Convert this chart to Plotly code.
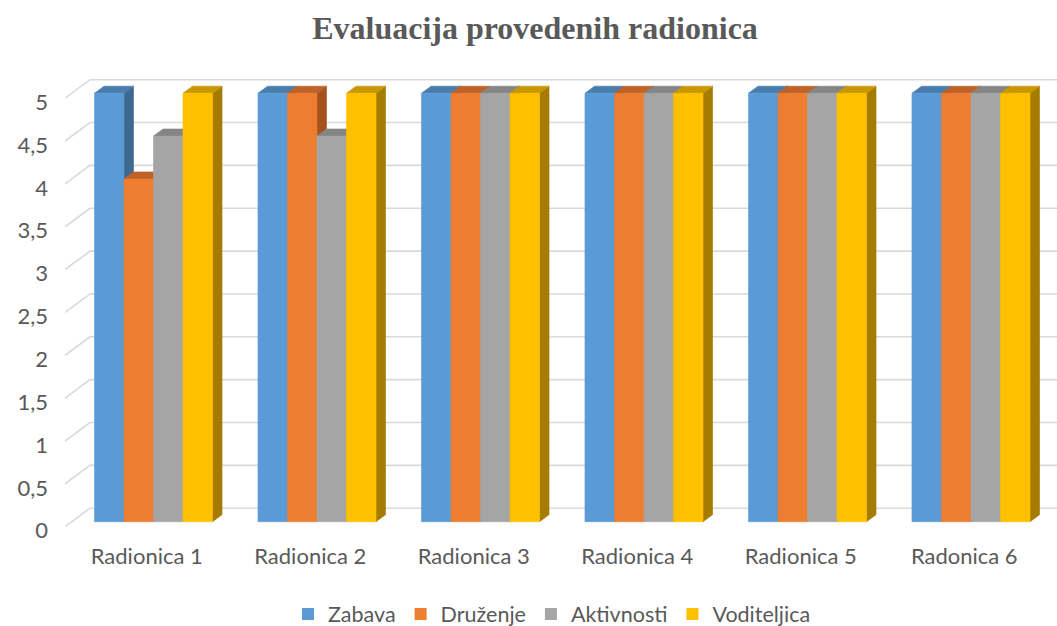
import plotly.graph_objects as go

# ---------------- data ----------------
categories = ["Radionica 1", "Radionica 2", "Radionica 3", "Radionica 4", "Radionica 5", "Radonica 6"]
series_names = ["Zabava", "Druženje", "Aktivnosti", "Voditeljica"]
zabava = [5, 5, 5, 5, 5, 5]
druzenje = [4, 5, 5, 5, 5, 5]
aktivnosti = [4.5, 4.5, 5, 5, 5, 5]
voditeljica = [5, 5, 5, 5, 5, 5]
tick_values = [0, 0.5, 1, 1.5, 2, 2.5, 3, 3.5, 4, 4.5, 5]
tick_labels = ["0", "0,5", "1", "1,5", "2", "2,5", "3", "3,5", "4", "4,5", "5"]

series_values = [zabava, druzenje, aktivnosti, voditeljica]

# ---------------- styling / geometry ----------------
front_colors = ["#5B9BD5", "#ED7D31", "#A5A5A5", "#FFC000"]
top_colors = ["#4A7DAD", "#BF6227", "#858585", "#C99800"]
side_colors = ["#3E6992", "#A6521C", "#767676", "#A57B00"]
TEXT = "#595959"
GRID = "#D9D9D9"

W, H = 1057, 626
ML, MR, MT, MB = 65, 0, 50, 96
plot_w = W - ML - MR
plot_h = H - MT - MB
SLOT_PX = 163.5          # pixels per category
UNIT_PX = 85.7           # pixels per value unit
x_range = [-0.5, -0.5 + plot_w / SLOT_PX]
y_bottom_px = 526.7      # pixel of value 0 on the front plane
y_min = -(MT + plot_h - y_bottom_px) / UNIT_PX
y_range = [y_min, y_min + plot_h / UNIT_PX]

WALL_DX_PX, WALL_DY_PX = 25.0, 18.5  # full depth offset


def depth(t):
    return t * WALL_DX_PX / SLOT_PX, t * WALL_DY_PX / UNIT_PX


T_FRONT, T_BACK = 0.27, 0.65
group_frac = 0.722
bw = group_frac / len(series_names)

fig = go.Figure()

# gridlines (side wall diagonal + back wall)
wdx, wdy = depth(1.0)
gx, gy = [], []
for v in tick_values:
    gx += [x_range[0], x_range[0] + wdx, x_range[1] + 1, None]
    gy += [v, v + wdy, v + wdy, None]
fig.add_trace(go.Scatter(x=gx, y=gy, mode="lines", line=dict(color=GRID, width=1.6),
                         hoverinfo="skip", showlegend=False))

fdx, fdy = depth(T_FRONT)
bdx, bdy = depth(T_BACK)
ddx, ddy = bdx - fdx, bdy - fdy

for j, (name, vals) in enumerate(zip(series_names, series_values)):
    fx, fy, tx, ty, sx, sy = [], [], [], [], [], []
    for i, v in enumerate(vals):
        xc = i + fdx + (j - (len(series_names) - 1) / 2) * bw
        l, r = xc - bw / 2, xc + bw / 2
        b, t = fdy, v + fdy
        fx += [l, r, r, l, l, None]
        fy += [b, b, t, t, b, None]
        tx += [l, r, r + ddx, l + ddx, l, None]
        ty += [t, t, t + ddy, t + ddy, t, None]
        sx += [r, r + ddx, r + ddx, r, r, None]
        sy += [b, b + ddy, t + ddy, t, b, None]
    for xs, ys, col in ((sx, sy, side_colors[j]), (tx, ty, top_colors[j]), (fx, fy, front_colors[j])):
        fig.add_trace(go.Scatter(x=xs, y=ys, mode="lines", fill="toself", fillcolor=col,
                                 line=dict(color=col, width=0.6), hoverinfo="skip",
                                 showlegend=False))
    # legend entry
    fig.add_trace(go.Scatter(x=[None], y=[None], mode="markers", name=name,
                             marker=dict(symbol="square", size=12, color=front_colors[j])))

fig.update_layout(
    width=W, height=H,
    margin=dict(l=ML, r=MR, t=MT, b=MB, autoexpand=False),
    paper_bgcolor="white", plot_bgcolor="white",
    title=dict(text="<b>Evaluacija provedenih radionica</b>", xref="container", x=535 / W,
               xanchor="center", yref="container", y=1 - 28 / H, yanchor="middle",
               font=dict(family="Liberation Serif", size=32, color=TEXT)),
    xaxis=dict(range=x_range, tickvals=list(range(len(categories))), ticktext=categories,
               showgrid=False, zeroline=False, showline=False, ticks="", ticklabelstandoff=11,
               tickfont=dict(family="Lato", size=22, color=TEXT), fixedrange=True,
               automargin=False),
    yaxis=dict(range=y_range, tickvals=tick_values, ticktext=tick_labels,
               showgrid=False, zeroline=False, showline=False, ticks="", ticklabelstandoff=16,
               ticklabelshift=4,
               tickfont=dict(family="Lato", size=22, color=TEXT), fixedrange=True,
               automargin=False),
    legend=dict(orientation="h", xref="container", x=552 / W, xanchor="center",
                yref="container", y=1 - 614 / H, yanchor="middle",
                font=dict(family="Lato", size=21.5, color=TEXT), itemwidth=30,
                tracegroupgap=0),
    showlegend=True,
)

fig.write_html("out.html", config={"displayModeBar": False},
               post_script="document.body.style.margin='0';")
